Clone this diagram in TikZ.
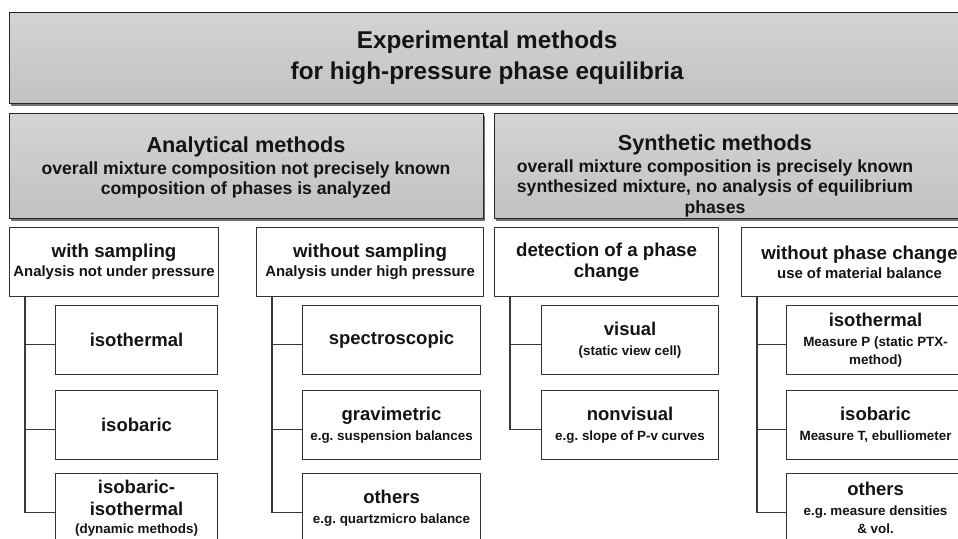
\documentclass[tikz,border=0pt]{standalone}
\usepackage{fontspec}
\setmainfont{Liberation Sans}
\usetikzlibrary{shadows}
\newcommand{\Ttl}{\fontsize{24.3}{31}\selectfont}
\newcommand{\Lhead}{\fontsize{21.7}{24}\selectfont}
\newcommand{\Lsubf}{\fontsize{17.6}{20.5}\selectfont}
\newcommand{\Mhead}{\fontsize{18.7}{21}\selectfont}
\newcommand{\Msubf}{\fontsize{14.9}{19}\selectfont}
\newcommand{\Shead}{\fontsize{18.5}{21.5}\selectfont}
\newcommand{\Ssubf}{\fontsize{13.4}{18}\selectfont}
\begin{document}
\frenchspacing
\begin{tikzpicture}[x=1pt,y=-1pt,
  graybox/.style={rectangle, draw=black!85, line width=1.4pt, anchor=north west, inner sep=0pt,
    top color=black!17, middle color=black!9, bottom color=black!24,
    drop shadow={shadow xshift=1.2pt, shadow yshift=-2.6pt, fill=black!55, opacity=1}},
  whitebox/.style={rectangle, draw=black!80, line width=1.1pt, fill=white, anchor=north west,
    inner sep=0pt, align=center, text=black!92},
  lvlthree/.style={whitebox, minimum height=69pt, font=\bfseries\Msubf},
  lvlfour/.style={whitebox, minimum height=69pt, font=\bfseries\Ssubf},
  labeltext/.style={align=center, inner sep=0pt, text=black!92},
  conn/.style={draw=black!78, line width=1.1pt}]
\useasboundingbox (0,0) rectangle (958,538);
\clip (0,0) rectangle (958,538);
% top
\node[graybox, minimum width=955pt, minimum height=91pt, align=center, font=\bfseries\Ttl, text=black!92] (top) at (9,12)
  {Experimental methods\\for high-pressure phase equilibria};
% level 2
\node[graybox, minimum width=474pt, minimum height=105pt] (ana) at (9,113) {};
\node[graybox, minimum width=486pt, minimum height=105pt] (syn) at (494,113) {};
\node[labeltext, font=\bfseries\Lsubf, anchor=north] (anatxt) at (246,137)
  {{\Lhead Analytical methods}\\[1pt]overall mixture composition not precisely known\\composition of phases is analyzed};
\node[labeltext, font=\bfseries\Lsubf, anchor=north] (syntxt) at (715,135)
  {{\Lhead Synthetic methods}\\[1pt]overall mixture composition is precisely known\\synthesized mixture, no analysis of equilibrium\\phases};
% level 3
\node[lvlthree, minimum width=209pt] (ws) at (9,227) {{\Mhead with sampling}\\Analysis not under pressure};
\node[lvlthree, minimum width=227pt] (wos) at (256,227) {{\Mhead without sampling}\\Analysis under high pressure};
\node[lvlthree, minimum width=224pt, font=\bfseries\Mhead] (det) at (494,227) {detection of a phase\\change};
\node[lvlthree, minimum width=236pt] (wopc) at (741,227) {{\Mhead without phase change}\\use of material balance};
% level 4, column 1
\node[lvlfour, minimum width=162pt] (a1) at (55,305) {{\Shead isothermal}};
\node[lvlfour, minimum width=162pt] (a2) at (55,390) {{\Shead isobaric}};
\node[lvlfour, minimum width=162pt] (a3) at (55,473) {{\Shead isobaric-}\\[4pt]{\Shead isothermal}\\[0pt](dynamic methods)};
% column 2
\node[lvlfour, minimum width=178pt] (b1) at (302,305) {{\Shead spectroscopic}};
\node[lvlfour, minimum width=178pt] (b2) at (302,390) {{\Shead gravimetric}\\[2pt]e.g. suspension balances};
\node[lvlfour, minimum width=178pt] (b3) at (302,473) {{\Shead others}\\[2pt]e.g. quartzmicro balance};
% column 3
\node[lvlfour, minimum width=177pt] (c1) at (541,305) {{\Shead visual}\\[2pt](static view cell)};
\node[lvlfour, minimum width=177pt] (c2) at (541,390) {{\Shead nonvisual}\\[2pt]e.g. slope of P-v curves};
% column 4
\node[lvlfour, minimum width=178pt] (d1) at (786,305) {{\Shead isothermal}\\[2pt]Measure P (static PTX-\\method)};
\node[lvlfour, minimum width=178pt] (d2) at (786,390) {{\Shead isobaric}\\[2pt]Measure T, ebulliometer};
\node[lvlfour, minimum width=178pt] (d3) at (786,473) {{\Shead others}\\[2pt]e.g. measure densities\\\& vol.};
% connectors
\foreach \p/\c in {ws/a1, ws/a2, ws/a3, wos/b1, wos/b2, wos/b3, det/c1, det/c2, wopc/d1, wopc/d2, wopc/d3}
  \draw[conn] ([xshift=16pt]\p.south west) |- ([yshift=-4pt]\c.west);
\end{tikzpicture}
\end{document}
